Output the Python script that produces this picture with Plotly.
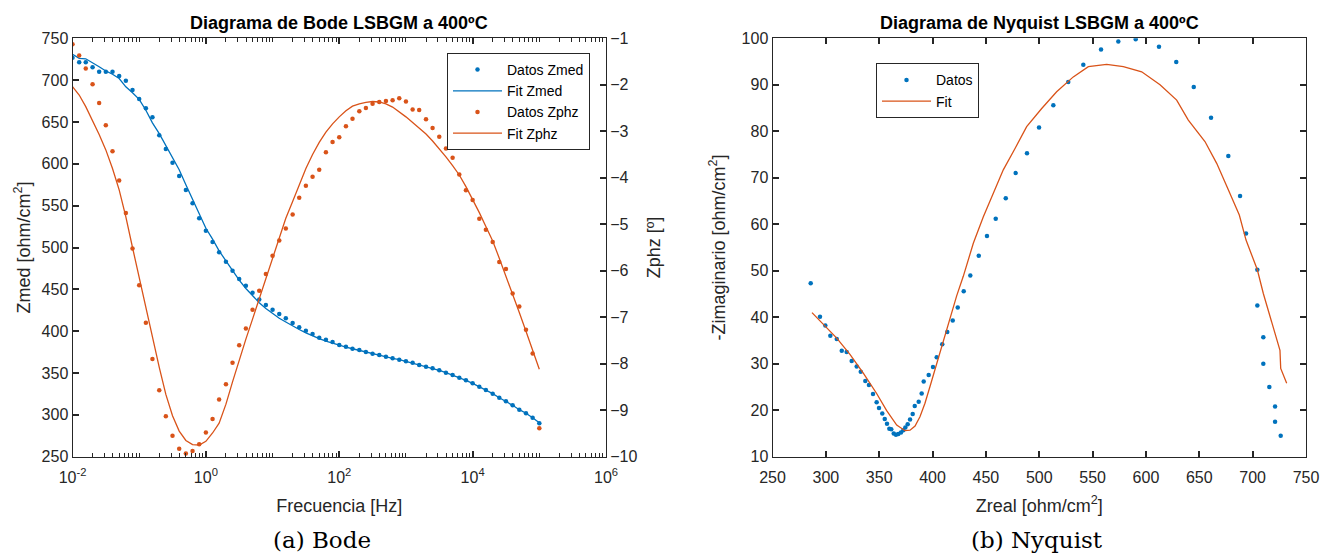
import plotly.graph_objects as go

# ---------------- data ----------------
freq_hz = [
    0.01, 0.0126, 0.0158, 0.02, 0.0251, 0.0316, 0.0398, 0.0501, 0.0631, 0.0794,
    0.1, 0.126, 0.158, 0.2, 0.251, 0.316, 0.398, 0.501, 0.631, 0.794,
    1, 1.26, 1.58, 2, 2.51, 3.16, 3.98, 5.01, 6.31, 7.94,
    10, 12.6, 15.8, 20, 25.1, 31.6, 39.8, 50.1, 63.1, 79.4,
    100, 126, 158, 200, 251, 316, 398, 501, 631, 794,
    1000, 1260, 1580, 2000, 2510, 3160, 3980, 5010, 6310, 7940,
    10000, 12600, 15800, 20000, 25100, 31600, 39800, 50100, 63100, 79400,
    100000,
]

zmed_data = [
    726.8, 721.3, 721.3, 715.3, 710.1, 710.0, 710.0, 704.9, 699.4, 688.2,
    677.5, 666.3, 655.6, 634.1, 617.7, 601.4, 585.4, 568.7, 552.8, 534.9,
    520.1, 506.6, 494.3, 483.0, 472.3, 462.4, 454.4, 446.0, 438.0, 431.3,
    425.7, 420.5, 415.4, 409.8, 404.6, 400.6, 396.6, 392.2, 389.8, 387.1,
    383.5, 381.5, 379.1, 377.5, 375.1, 373.1, 371.5, 369.5, 367.6, 365.9,
    364.0, 362.3, 359.6, 357.6, 355.6, 353.2, 350.4, 347.6, 344.4, 341.3,
    337.7, 333.7, 329.7, 325.3, 320.5, 316.2, 311.4, 306.2, 301.9, 296.6,
    290.0,
]

zmed_fit = [
    731.0, 726.0, 725.5, 721.0, 716.0, 711.0, 707.0, 702.0, 692.0, 685.0,
    677.0, 664.0, 649.0, 636.0, 622.0, 608.0, 593.0, 575.0, 557.0, 539.0,
    523.0, 510.0, 496.0, 484.0, 472.0, 461.0, 451.0, 442.0, 434.0, 427.0,
    421.0, 415.5, 411.0, 406.0, 402.0, 398.0, 394.0, 391.0, 388.0, 385.5,
    383.0, 381.0, 379.0, 377.0, 375.0, 373.0, 371.0, 369.0, 367.5, 366.0,
    364.0, 362.0, 360.0, 357.6, 355.6, 353.2, 350.4, 347.6, 344.4, 341.3,
    337.7, 333.7, 329.7, 325.3, 320.5, 316.2, 311.4, 306.2, 301.9, 296.6,
    290.5,
]

zphz_data = [
    -1.13, -1.37, -1.65, -1.99, -2.39, -2.87, -3.43, -4.06, -4.76, -5.52,
    -6.31, -7.12, -7.90, -8.57, -9.13, -9.55, -9.83, -9.93, -9.88, -9.73,
    -9.48, -9.19, -8.77, -8.44, -7.98, -7.60, -7.24, -6.84, -6.43, -6.07,
    -5.68, -5.35, -5.09, -4.79, -4.43, -4.17, -3.98, -3.83, -3.45, -3.23,
    -3.13, -2.89, -2.73, -2.57, -2.50, -2.41, -2.37, -2.35, -2.33, -2.29,
    -2.36, -2.53, -2.54, -2.74, -2.93, -3.12, -3.37, -3.57, -3.93, -4.27,
    -4.48, -4.88, -5.12, -5.38, -5.81, -5.96, -6.49, -6.77, -7.27, -7.78,
    -9.39,
]

zphz_fit = [
    -2.04, -2.22, -2.47, -2.76, -3.07, -3.40, -3.80, -4.26, -4.84, -5.50,
    -6.15, -6.80, -7.45, -8.08, -8.66, -9.12, -9.45, -9.65, -9.74, -9.75,
    -9.67, -9.49, -9.28, -8.87, -8.39, -7.92, -7.47, -7.04, -6.61, -6.18,
    -5.73, -5.27, -4.87, -4.51, -4.16, -3.80, -3.50, -3.24, -3.02, -2.84,
    -2.69, -2.56, -2.46, -2.41, -2.38, -2.36, -2.37, -2.41, -2.48, -2.58,
    -2.69, -2.81, -2.93, -3.06, -3.21, -3.37, -3.55, -3.74, -3.94, -4.19,
    -4.46, -4.75, -5.05, -5.36, -5.73, -6.11, -6.50, -6.90, -7.30, -7.71,
    -8.12,
]

zreal_data = [
    285.8, 294.5, 299.5, 304.2, 310.2, 314.9, 319.5, 324.2, 328.9, 332.7,
    337.0, 340.4, 344.2, 347.6, 349.8, 352.9, 355.2, 357.3, 359.5, 361.3,
    363.6, 365.7, 367.9, 370.4, 372.6, 374.5, 376.7, 378.9, 381.4, 383.3,
    387.0, 389.8, 391.7, 396.4, 400.4, 403.9, 409.1, 413.8, 418.9, 423.6,
    429.2, 435.4, 443.3, 451.0, 459.2, 468.6, 477.9, 488.5, 499.8, 513.2,
    527.2, 541.3, 557.9, 574.1, 590.4, 612.2, 628.4, 644.8, 661.0, 677.2,
    688.2, 693.8, 704.4, 704.4, 710.0, 710.0, 715.6, 721.0, 721.0, 726.3,
]
zimag_data = [
    47.3, 40.1, 38.2, 36.0, 35.3, 32.8, 32.5, 30.6, 29.4, 28.3,
    26.3, 25.4, 23.5, 21.7, 20.5, 19.3, 18.1, 17.1, 16.0, 15.9,
    15.0, 14.7, 14.9, 15.2, 15.7, 16.3, 17.0, 18.0, 19.2, 20.9,
    21.8, 23.6, 26.2, 27.6, 29.3, 31.4, 34.2, 36.8, 39.3, 42.1,
    45.6, 49.0, 53.2, 57.5, 61.2, 65.6, 71.0, 75.3, 80.8, 85.6,
    90.6, 94.3, 97.6, 99.3, 99.8, 98.2, 94.9, 89.5, 82.9, 74.7,
    66.1, 58.0, 50.2, 42.5, 35.7, 30.0, 25.0, 20.8, 17.5, 14.5,
]

zreal_fit = [
    287.0, 297.6, 310.2, 322.6, 335.1, 347.6, 357.0, 366.4, 374.2, 378.9,
    383.6, 388.2, 392.9, 397.6, 403.9, 410.1, 416.4, 422.6, 428.8, 438.2,
    447.6, 456.9, 466.3, 477.3, 488.2, 502.3, 516.3, 531.9, 546.0, 563.2,
    578.8, 596.0, 613.2, 628.8, 639.7, 655.3, 666.3, 677.2, 687.5, 693.8,
    704.4, 710.0, 717.9, 725.6, 726.3, 731.9,
]
zimag_fit = [
    41.0, 38.5, 35.5, 32.0, 28.0, 23.6, 19.9, 16.8, 15.6, 15.7,
    16.6, 18.6, 21.5, 25.1, 30.1, 35.1, 40.1, 44.6, 48.8, 55.9,
    61.6, 66.7, 71.7, 76.3, 81.0, 84.9, 88.5, 91.7, 93.9, 94.4,
    93.9, 92.8, 90.0, 86.7, 82.4, 77.8, 73.1, 67.4, 62.0, 56.6,
    50.2, 45.1, 38.7, 32.9, 29.0, 25.8,
]

freq_tickvals = [0.01, 1, 100, 10000, 1000000]
freq_ticktext = ["10<sup>-2</sup>", "10<sup>0</sup>", "10<sup>2</sup>",
                 "10<sup>4</sup>", "10<sup>6</sup>"]

# ---------------- style ----------------
W, H = 1321, 554
BLUE = "#0072BD"
ORANGE = "#D95319"
AX = "#262626"
FONT = "Liberation Sans, Arial, Helvetica, sans-serif"
SERIF = "DejaVu Serif, Liberation Serif, serif"

def px_x(p):
    return p / W

def px_y(p):
    return 1 - p / H

left_dom = [px_x(72.5), px_x(606)]
right_dom = [px_x(772.5), px_x(1306)]
y_dom = [px_y(456.7), px_y(38.3)]

# minor tick positions of the logarithmic frequency axis
minor_vals = [k * 10.0 ** e for e in range(-2, 6) for k in range(1, 10)]

fig = go.Figure()

fig.add_trace(go.Scatter(x=freq_hz, y=zmed_data, mode="markers", name="Datos Zmed",
                         marker=dict(color=BLUE, size=4.5), xaxis="x", yaxis="y",
                         legend="legend"))
fig.add_trace(go.Scatter(x=freq_hz, y=zmed_fit, mode="lines", name="Fit Zmed",
                         line=dict(color=BLUE, width=1.3), xaxis="x", yaxis="y",
                         legend="legend"))
fig.add_trace(go.Scatter(x=freq_hz, y=zphz_data, mode="markers", name="Datos Zphz",
                         marker=dict(color=ORANGE, size=4.5), xaxis="x", yaxis="y2",
                         legend="legend"))
fig.add_trace(go.Scatter(x=freq_hz, y=zphz_fit, mode="lines", name="Fit Zphz",
                         line=dict(color=ORANGE, width=1.3), xaxis="x", yaxis="y2",
                         legend="legend"))
fig.add_trace(go.Scatter(x=zreal_data, y=zimag_data, mode="markers", name="Datos",
                         marker=dict(color=BLUE, size=4.5), xaxis="x2", yaxis="y3",
                         legend="legend2"))
fig.add_trace(go.Scatter(x=zreal_fit, y=zimag_fit, mode="lines", name="Fit",
                         line=dict(color=ORANGE, width=1.3), xaxis="x2", yaxis="y3",
                         legend="legend2"))
# invisible helper so the minor-tick overlay axis is drawn
fig.add_trace(go.Scatter(x=freq_hz[:1], y=zmed_data[:1], mode="markers",
                         marker=dict(opacity=0, size=1), xaxis="x3", yaxis="y",
                         showlegend=False, hoverinfo="skip"))

common = dict(showgrid=False, zeroline=False, showline=True, linecolor=AX,
              linewidth=1, ticks="inside", ticklen=6, tickwidth=1.5, tickcolor="#262626",
              tickfont=dict(family=FONT, size=16, color=AX), automargin=False)

fig.update_layout(
    width=W, height=H, autosize=False,
    margin=dict(l=0, r=0, t=0, b=0, pad=0),
    paper_bgcolor="white", plot_bgcolor="rgba(0,0,0,0)",
    font=dict(family=FONT, color=AX),
    hovermode=False,
    xaxis=dict(domain=left_dom, type="log", range=[-2, 6], anchor="y",
               tickmode="array", tickvals=freq_tickvals, ticktext=freq_ticktext,
               mirror="ticks", ticklabelstandoff=6,
               title=dict(text="Frecuencia [Hz]", font=dict(size=18, color=AX),
                          standoff=14),
               **common),
    # overlay axis carrying only the short minor ticks of the log scale
    xaxis3=dict(domain=left_dom, type="log", range=[-2, 6], anchor="y",
                overlaying="x", side="bottom", tickmode="array", tickvals=minor_vals,
                showticklabels=False, showgrid=False, zeroline=False,
                showline=True, linecolor=AX, linewidth=1, mirror="ticks",
                ticks="inside", ticklen=3.5, tickwidth=1.2, tickcolor="#262626",
                automargin=False),
    yaxis=dict(domain=y_dom, range=[250, 750], tick0=250, dtick=50, anchor="x",
               mirror=False,
               title=dict(text="Zmed [ohm/cm<sup>2</sup>]", font=dict(size=18, color=AX),
                          standoff=6),
               **common),
    yaxis2=dict(domain=y_dom, range=[-10, -1], tick0=-10, dtick=1, anchor="x",
                overlaying="y", side="right",
                title=dict(text="Zphz [º]", font=dict(size=18, color=AX), standoff=10),
                **common),
    xaxis2=dict(domain=right_dom, range=[250, 750], tick0=250, dtick=50, anchor="y3",
                mirror="ticks", ticklabelstandoff=6,
                title=dict(text="Zreal [ohm/cm<sup>2</sup>]", font=dict(size=18, color=AX),
                           standoff=14),
                **common),
    yaxis3=dict(domain=y_dom, range=[10, 100], tick0=10, dtick=10, anchor="x2",
                mirror="ticks",
                title=dict(text="-Zimaginario [ohm/cm<sup>2</sup>]",
                           font=dict(size=18, color=AX), standoff=11),
                **common),
    legend=dict(x=px_x(590), y=px_y(53), xanchor="right", yanchor="top",
                bgcolor="white", bordercolor=AX, borderwidth=1,
                font=dict(family=FONT, size=14, color="black"),
                itemwidth=49, tracegroupgap=0),
    legend2=dict(x=px_x(876), y=px_y(63.3), xanchor="left", yanchor="top",
                 bgcolor="white", bordercolor=AX, borderwidth=1,
                 font=dict(family=FONT, size=14, color="black"),
                 itemwidth=49, tracegroupgap=0),
    showlegend=True,
)

annotations = [
    dict(text="<b>Diagrama de Bode LSBGM a 400ºC</b>", x=(left_dom[0] + left_dom[1]) / 2,
         y=px_y(23), xref="paper", yref="paper", xanchor="center", yanchor="middle",
         showarrow=False, font=dict(family=FONT, size=18, color="black")),
    dict(text="<b>Diagrama de Nyquist LSBGM a 400ºC</b>",
         x=(right_dom[0] + right_dom[1]) / 2, y=px_y(23), xref="paper", yref="paper",
         xanchor="center", yanchor="middle", showarrow=False,
         font=dict(family=FONT, size=18, color="black")),
    dict(text="(a) Bode", x=px_x(322), y=px_y(540), xref="paper", yref="paper",
         xanchor="center", yanchor="middle", showarrow=False,
         font=dict(family=SERIF, size=23, color="black")),
    dict(text="(b) Nyquist", x=px_x(1037), y=px_y(540), xref="paper", yref="paper",
         xanchor="center", yanchor="middle", showarrow=False,
         font=dict(family=SERIF, size=23, color="black")),
]
fig.update_layout(annotations=annotations)

fig.write_html("out.html")
